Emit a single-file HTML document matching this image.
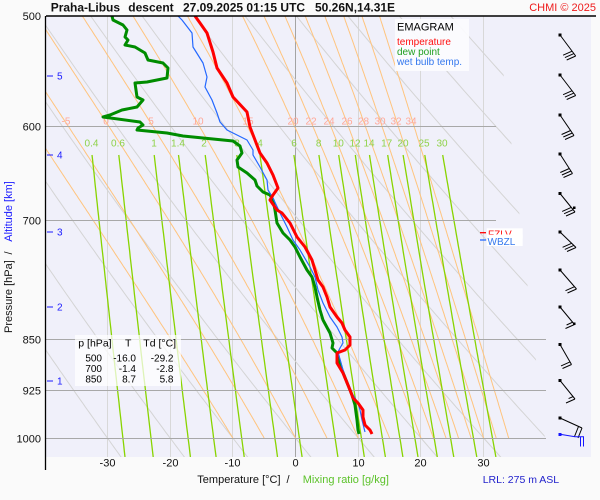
<!DOCTYPE html>
<html><head><meta charset="utf-8">
<style>
html,body{margin:0;padding:0;background:#fafafa;}
svg{display:block;font-family:"Liberation Sans",Arial,sans-serif;}
</style></head>
<body>
<svg id="chart" xmlns="http://www.w3.org/2000/svg" width="600" height="500" viewBox="0 0 600 500">
<defs>
<clipPath id="cp"><rect x="46" y="16" width="545" height="441"/></clipPath>
<clipPath id="cd"><polygon points="46,16 497,16 547,457 46,457"/></clipPath>
</defs>
<rect width="600" height="500" fill="#fafafa"/>
<rect x="46" y="16" width="545" height="441" fill="#f0f0fa"/>

<!-- vertical isotherms -->
<g stroke="#d8d8d8" stroke-width="1">
<line x1="107.5" y1="16" x2="107.5" y2="457"/>
<line x1="170.5" y1="16" x2="170.5" y2="457"/>
<line x1="232.5" y1="16" x2="232.5" y2="457"/>
<line x1="358.5" y1="16" x2="358.5" y2="457"/>
<line x1="420.5" y1="16" x2="420.5" y2="457"/>
<line x1="483.5" y1="16" x2="483.5" y2="457"/>
</g>
<line x1="295.5" y1="16" x2="295.5" y2="457" stroke="#a4a4a4" stroke-width="1"/>

<g id="dry" clip-path="url(#cd)" fill="none" stroke="#d4d4d4" stroke-width="1"></g>
<g id="moist" clip-path="url(#cp)" fill="none" stroke="#ffc47e" stroke-width="1"></g>
<g id="mix" clip-path="url(#cp)" fill="none" stroke="#88d400" stroke-width="1.3"></g>

<!-- pressure lines -->
<g stroke="#a8a8a8" stroke-width="1">
<line x1="46" y1="126.5" x2="496" y2="126.5"/>
<line x1="46" y1="220.5" x2="496" y2="220.5"/>
<line x1="46" y1="339.5" x2="546" y2="339.5"/>
<line x1="46" y1="390.5" x2="546" y2="390.5"/>
<line x1="46" y1="438.5" x2="546" y2="438.5"/>
</g>

<!-- moist adiabat labels -->
<g font-size="10" fill="#ffa898" text-anchor="middle">
<text x="66" y="124.3">-5</text><text x="106" y="124.3">0</text><text x="151" y="124.3">5</text>
<text x="198" y="124.3">10</text><text x="248" y="124.3">15</text><text x="293" y="124.3">20</text>
<text x="311" y="124.3">22</text><text x="329" y="124.3">24</text><text x="347" y="124.3">26</text>
<text x="363.5" y="124.3">28</text><text x="380" y="124.3">30</text><text x="396" y="124.3">32</text>
<text x="411" y="124.3">34</text>
</g>
<!-- mixing ratio labels -->
<g font-size="10" fill="#8fd24a" text-anchor="middle">
<text x="91.5" y="146.3">0.4</text><text x="118" y="146.3">0.6</text><text x="154" y="146.3">1</text>
<text x="178" y="146.3">1.4</text><text x="204" y="146.3">2</text><text x="237" y="146.3">3</text>
<text x="260" y="146.3">4</text><text x="294" y="146.3">6</text><text x="318.7" y="146.3">8</text>
<text x="338.3" y="146.3">10</text><text x="355" y="146.3">12</text><text x="369" y="146.3">14</text>
<text x="386.7" y="146.3">17</text><text x="403" y="146.3">20</text><text x="424" y="146.3">25</text>
<text x="442" y="146.3">30</text>
</g>

<!-- profiles -->
<g clip-path="url(#cp)" fill="none" stroke-linejoin="round">
<polyline stroke="#008c00" stroke-width="3" points="112,16 113,20 123,25 127,30 125,37 128,40 125,45 135,47 145,53 148,60 163,63 168,68 167,78 147,82 135,83 137,97 143,100 137,107 122,110 110,115 103,117 140,122 143,125 138,128 137,130 167,133 183,136 233,141 240,146 242,153 237,160 238,167 247,173 255,180 257,186 263,192 270,195 273,200 275,210 277,223 283,233 290,240 295,247 300,257 307,270 312,277 315,287 317,297 320,310 323,320 330,333 333,343 332,348 337,353 342,370 348,385 352,395 355,405 357,420 358,430 359,434"/>
<polyline stroke="#2468ff" stroke-width="1.2" points="178,16 182,20 192,33 193,47 203,63 207,77 205,87 212,100 217,113 220,122 227,130 233,133 247,140 253,150 253,155 260,167 267,180 268,190 273,198 280,213 287,227 293,240 300,250 310,267 315,277 318,290 323,303 330,317 337,327 342,337 343,343 340,348 338,352 343,370 350,390 358,403 360,410 362,420 365,432"/>
<polyline stroke="#ff0000" stroke-width="3" points="195,16 200,23 207,33 213,52 217,68 227,83 233,97 247,112 250,127 255,140 260,153 267,163 273,175 278,188 273,195 270,200 277,210 282,213 290,223 297,237 305,247 312,260 315,270 318,280 323,287 327,297 330,307 337,317 342,323 345,330 350,337 350,345 345,350 337,353 337,363 343,373 350,390 353,398 358,403 363,410 363,417 365,425 370,430 372,434"/>
</g>

<!-- legend box -->
<rect x="395" y="19" width="74" height="52" fill="#fcfcfe" opacity="0.92"/>
<text x="397" y="30.7" font-size="11" fill="#000">EMAGRAM</text>
<text x="397" y="45" font-size="10" fill="#ff1010">temperature</text>
<text x="397" y="55" font-size="10" fill="#22a022">dew point</text>
<text x="397" y="65" font-size="10" fill="#3377ee">wet bulb temp.</text>

<!-- table box -->
<rect x="75" y="335" width="106" height="51" fill="#ffffff" opacity="0.72"/>
<g font-size="10.5" fill="#000">
<text x="78.3" y="346.5">p [hPa]</text><text x="125" y="346.5">T</text><text x="143.3" y="346.5">Td [°C]</text>
</g>
<g font-size="10" fill="#000" text-anchor="end">
<text x="102" y="361.5">500</text><text x="136" y="361.5">-16.0</text><text x="173.5" y="361.5">-29.2</text>
<text x="102" y="372">700</text><text x="136" y="372">-1.4</text><text x="173.5" y="372">-2.8</text>
<text x="102" y="382.5">850</text><text x="136" y="382.5">8.7</text><text x="173.5" y="382.5">5.8</text>
</g>

<!-- FZLV / WBZL -->
<line x1="480" y1="232.7" x2="486" y2="232.7" stroke="#ff0000" stroke-width="1.3"/>
<rect x="486.7" y="228.3" width="36" height="10" fill="#ffffff"/>
<text x="488" y="237.5" font-size="10" fill="#ff1010">FZLV</text>
<rect x="486.7" y="234.5" width="36" height="11.5" fill="#ffffff"/>
<line x1="480" y1="240" x2="486" y2="240" stroke="#2468ff" stroke-width="1.3"/>
<text x="487.5" y="245" font-size="10" fill="#3377ee">WBZL</text>

<!-- wind barbs -->
<g stroke="#000" stroke-width="1" fill="none">
<line x1="560" y1="35" x2="575.7" y2="56"/>
<line x1="575.7" y1="56" x2="566.7" y2="60"/><line x1="573.9" y1="53.6" x2="564.9" y2="57.6"/><line x1="572.1" y1="51.2" x2="563.1" y2="55.2"/>
<line x1="560" y1="75" x2="575.7" y2="95.5"/>
<line x1="575.7" y1="95.5" x2="566.7" y2="99.5"/><line x1="573.9" y1="93.1" x2="564.9" y2="97.1"/><line x1="572.1" y1="90.7" x2="563.1" y2="94.7"/>
<line x1="560" y1="115" x2="574" y2="135.5"/>
<line x1="574" y1="135.5" x2="565" y2="139.5"/><line x1="572.3" y1="133" x2="563.3" y2="137"/><line x1="570.6" y1="130.5" x2="561.6" y2="134.5"/>
<line x1="560" y1="154" x2="572.5" y2="173.5"/>
<line x1="572.5" y1="173.5" x2="563.5" y2="177.5"/><line x1="570.9" y1="171" x2="561.9" y2="175"/><line x1="569.3" y1="168.5" x2="560.3" y2="172.5"/>
<line x1="560" y1="193.5" x2="575" y2="212"/>
<line x1="575" y1="212" x2="566" y2="216"/><line x1="573.1" y1="209.7" x2="564.1" y2="213.7"/><line x1="571.2" y1="207.4" x2="562.2" y2="211.4"/>
<line x1="560" y1="232" x2="576" y2="247.5"/>
<line x1="576" y1="247.5" x2="567" y2="251.5"/><line x1="573.8" y1="245.4" x2="564.8" y2="249.4"/><line x1="571.6" y1="243.3" x2="562.6" y2="247.3"/>
<line x1="560" y1="270" x2="576.5" y2="289"/>
<line x1="576.5" y1="289" x2="567.5" y2="293"/><line x1="574.5" y1="286.7" x2="565.5" y2="290.7"/>
<line x1="560" y1="307" x2="574.5" y2="324.5"/>
<line x1="574.5" y1="324.5" x2="565.5" y2="328.5"/><line x1="572.6" y1="322.2" x2="566.6" y2="325"/>
<line x1="560" y1="344.5" x2="571.5" y2="364.5"/>
<line x1="571.5" y1="364.5" x2="562.5" y2="368.5"/><line x1="570" y1="361.9" x2="561" y2="365.9"/>
<line x1="560" y1="380.5" x2="575" y2="399"/>
<line x1="575" y1="399" x2="566" y2="403"/><line x1="573.1" y1="396.6" x2="568.6" y2="398.6"/>
<line x1="560" y1="418" x2="582" y2="428"/>
<line x1="582" y1="428" x2="578" y2="438"/><line x1="578.5" y1="426.5" x2="574.5" y2="436.5"/>
</g>
<g fill="#000">
<rect x="558.5" y="33.5" width="3" height="3"/><rect x="558.5" y="73.5" width="3" height="3"/>
<rect x="558.5" y="113.5" width="3" height="3"/><rect x="558.5" y="152.5" width="3" height="3"/>
<rect x="558.5" y="192" width="3" height="3"/><rect x="558.5" y="230.5" width="3" height="3"/>
<rect x="558.5" y="268.5" width="3" height="3"/><rect x="558.5" y="305.5" width="3" height="3"/>
<rect x="558.5" y="343" width="3" height="3"/><rect x="558.5" y="379" width="3" height="3"/>
<rect x="558.5" y="416.5" width="3" height="3"/>
<rect x="573" y="206.5" width="2.5" height="2.5"/><rect x="573" y="322.5" width="2.5" height="2.5"/>
</g>
<g stroke="#1515ff" stroke-width="1" fill="none">
<polyline points="560,434.3 575,436.7 584,436.7"/>
<line x1="580.5" y1="436.7" x2="580.5" y2="446.5"/>
<line x1="583.5" y1="436.7" x2="583.5" y2="446.5"/>
</g>
<rect x="558.5" y="433" width="3" height="3" fill="#1515ff"/>

<!-- axes frame -->
<line x1="46" y1="16" x2="596" y2="16" stroke="#000" stroke-width="1.5"/>
<line x1="45.5" y1="16" x2="45.5" y2="470" stroke="#000" stroke-width="1.3"/>

<!-- title -->
<g font-size="12" font-weight="bold" fill="#111">
<text x="50.7" y="11.6">Praha-Libus</text>
<text x="128.3" y="11.6">descent</text>
<text x="183" y="11.6">27.09.2025 01:15 UTC</text>
<text x="315" y="11.6">50.26N,14.31E</text>
</g>
<text x="596" y="11.2" font-size="11" fill="#ee1c1c" text-anchor="end">CHMI © 2025</text>

<!-- y labels -->
<g font-size="11" fill="#111" text-anchor="end">
<text x="41" y="20">500</text><text x="41" y="130.5">600</text><text x="41" y="224.5">700</text>
<text x="41" y="343.5">850</text><text x="41" y="394.5">925</text><text x="41" y="442.5">1000</text>
</g>
<!-- altitude -->
<g stroke="#1a1aff" stroke-width="1">
<line x1="47" y1="76" x2="53" y2="76"/><line x1="47" y1="155" x2="53" y2="155"/>
<line x1="47" y1="232" x2="53" y2="232"/><line x1="47" y1="307" x2="53" y2="307"/>
<line x1="47" y1="381" x2="53" y2="381"/>
</g>
<g font-size="10" fill="#1a1aff">
<text x="57" y="79.6">5</text><text x="57" y="158.6">4</text><text x="57" y="235.6">3</text>
<text x="57" y="310.6">2</text><text x="57" y="384.6">1</text>
</g>
<!-- y title -->
<g font-size="11">
<text transform="translate(12,333) rotate(-90)" fill="#111">Pressure [hPa]</text>
<text transform="translate(12,254.5) rotate(-90)" fill="#111">/</text>
<text transform="translate(12,241.7) rotate(-90)" fill="#1a1aff">Altitude [km]</text>
</g>

<!-- x labels -->
<g font-size="11" fill="#111" text-anchor="middle">
<text x="107.5" y="466.6">-30</text><text x="170.5" y="466.6">-20</text><text x="232.5" y="466.6">-10</text>
<text x="295.5" y="466.6">0</text><text x="358.5" y="466.6">10</text><text x="420.5" y="466.6">20</text>
<text x="483.5" y="466.6">30</text>
</g>
<text x="197.3" y="483" font-size="11" fill="#111">Temperature [°C]</text>
<text x="286.5" y="483" font-size="11" fill="#111">/</text>
<text x="302.7" y="483" font-size="11" fill="#5cc22a">Mixing ratio [g/kg]</text>
<text x="482.7" y="483" font-size="10.5" fill="#2222cc">LRL: 275 m ASL</text>
</svg>

<script>
(function(){
var NS="http://www.w3.org/2000/svg";
function X(T){return 295.5+6.27*T;}
function Y(p){return 16+608.8*Math.log(p/500);}
function add(g,pts){var e=document.createElementNS(NS,"path");
 var d="M"+pts.map(function(q){return q[0].toFixed(1)+","+q[1].toFixed(1);}).join("L");
 e.setAttribute("d",d);g.appendChild(e);}
// dry adiabats
var gd=document.getElementById("dry");
for(var th=-30;th<=110;th+=10){var pts=[];
 for(var p=1040;p>=490;p-=5){var T=(th+273.15)*Math.pow(p/1000,0.2857)-273.15;pts.push([X(T),Y(p)]);}
 add(gd,pts);}
// moist (pseudo) adiabats
var gm=document.getElementById("moist");
function es(Tc){return 6.112*Math.exp(17.67*Tc/(Tc+243.5));}
function f(T,p){var e=es(T-273.15);var r=0.622*e/(p-e);
 return (287.04*T+2.501e6*r)/(p*(1005.7+2.501e6*2.501e6*r*0.622/(287.04*T*T)));}
[-10,-5,0,5,10,15,20,22,24,26,28,30,32,34].forEach(function(t){
 var T=t+273.15,p=1000,dp=-2,pts=[[X(t),Y(1000)]];
 while(p>492){var k1=f(T,p);var k2=f(T+k1*dp/2,p+dp/2);T+=k2*dp;p+=dp;pts.push([X(T-273.15),Y(p)]);}
 add(gm,pts);});
// mixing ratio lines
var gx=document.getElementById("mix");
[0.4,0.6,1,1.4,2,3,4,6,8,10,12,14,17,20,25,30].forEach(function(w){
 var pts=[];for(var i=0;i<=50;i++){var y=155+i*302/50;var p=500*Math.exp((y-16)/608.8);
 var e=w*p/(622+w);var l=Math.log(e/6.112);var Td=243.5*l/(17.67-l);pts.push([X(Td),y]);}
 add(gx,pts);});
})();
</script>
</body></html>
